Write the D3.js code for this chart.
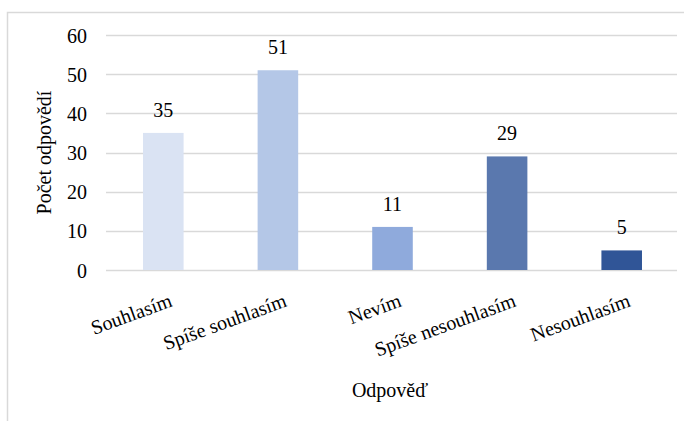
<!DOCTYPE html>
<html>
<head>
<meta charset="utf-8">
<script src="https://cdn.jsdelivr.net/npm/d3@7"></script>
<style>
  html, body { margin: 0; padding: 0; background: #fff; }
  svg { display: block; }
</style>
</head>
<body>
<svg id="fig" width="684" height="421"></svg>
<script>
// Responses to the survey question
const categories = ["Souhlasím", "Spíše souhlasím", "Nevím", "Spíše nesouhlasím", "Nesouhlasím"];
const counts = [35, 51, 11, 29, 5];
const barColors = ["#dae3f3", "#b4c7e7", "#8faadc", "#5a78ae", "#305597"];
const yTicks = [0, 10, 20, 30, 40, 50, 60];
const xTitle = "Odpověď";
const yTitle = "Počet odpovědí";

const FONT = "'Liberation Serif'";
const serif = sel => sel
  .style("font-family", FONT, "important")
  .style("font-size", "20px", "important");

const svg = d3.select("#fig");
const W = 684, H = 421;
const margin = { left: 106, right: 5, top: 35, bottom: 151 };

// outer frame (left and top edges visible)
svg.append("path")
  .attr("d", `M7.5,${H} L7.5,12.5 L${W},12.5`)
  .attr("fill", "none")
  .attr("stroke", "#d9d9d9")
  .attr("stroke-width", 1.5);

const x = d3.scaleBand()
  .domain(categories)
  .range([margin.left, W - margin.right])
  .paddingInner(0.646)
  .paddingOuter(0.323);

const y = d3.scaleLinear()
  .domain([0, 60])
  .range([H - margin.bottom, margin.top]);

// horizontal gridlines
svg.append("g")
  .selectAll("line")
  .data(yTicks)
  .join("line")
  .attr("x1", margin.left)
  .attr("x2", 677)
  .attr("y1", d => Math.round(y(d)) + 0.5)
  .attr("y2", d => Math.round(y(d)) + 0.5)
  .attr("stroke", "#d9d9d9")
  .attr("stroke-width", 1.5);

// y axis labels
const yAxis = d3.axisLeft(y).tickValues(yTicks).tickSize(0).tickPadding(0);
svg.append("g")
  .attr("transform", `translate(87,0)`)
  .call(yAxis)
  .call(g => g.select(".domain").remove())
  .call(g => g.selectAll("text")
    .call(serif)
    .attr("fill", "#000")
    .attr("dy", "0.35em"));

// bars
svg.append("g")
  .selectAll("rect")
  .data(counts)
  .join("rect")
  .attr("x", (d, i) => x(categories[i]))
  .attr("y", d => y(d))
  .attr("width", x.bandwidth())
  .attr("height", d => y(0) - y(d))
  .attr("fill", (d, i) => barColors[i]);

// value labels
svg.append("g")
  .selectAll("text")
  .data(counts)
  .join("text")
  .call(serif)
  .attr("x", (d, i) => x(categories[i]) + x.bandwidth() / 2)
  .attr("y", d => y(d) - 16)
  .attr("text-anchor", "middle")
  .attr("fill", "#000")
  .text(d => d);

// category labels, rotated
const xAxis = d3.axisBottom(x).tickSize(0).tickPadding(0);
svg.append("g")
  .attr("transform", `translate(0,${y(0)})`)
  .call(xAxis)
  .call(g => g.select(".domain").remove())
  .call(g => g.selectAll("text")
    .call(serif)
    .attr("fill", "#000")
    .attr("text-anchor", "end")
    .attr("dy", null)
    .attr("y", 0)
    .attr("transform", "translate(10,36) rotate(-20)"));

// axis titles
svg.append("text")
  .call(serif)
  .attr("x", 390)
  .attr("y", 397)
  .attr("text-anchor", "middle")
  .attr("fill", "#000")
  .text(xTitle);

svg.append("text")
  .call(serif)
  .attr("transform", `translate(51,${(y(0) + y(60)) / 2}) rotate(-90)`)
  .attr("text-anchor", "middle")
  .attr("fill", "#000")
  .text(yTitle);
</script>
</body>
</html>
